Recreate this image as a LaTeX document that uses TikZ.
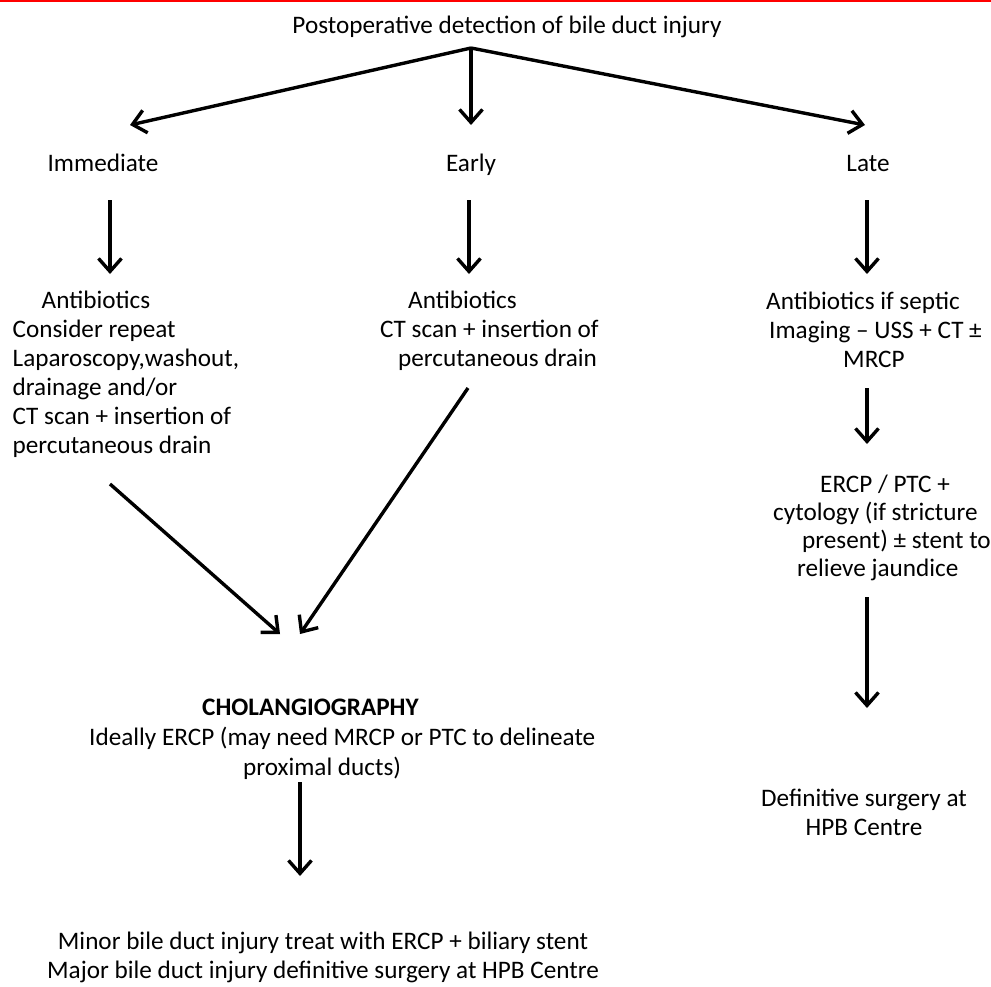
\documentclass[tikz,border=0pt]{standalone}
\usepackage{fontspec}
\setmainfont{Carlito}
\usetikzlibrary{arrows.meta}
\newcommand{\topstrut}{\rule{0pt}{20pt}}
\begin{document}
\begin{tikzpicture}[x=1pt,y=-1pt,
  txt/.style={font=\fontsize{25.2}{29}\selectfont, inner sep=0pt, anchor=center},
  blk/.style={txt, align=left, anchor=north west},
  lbl/.style={txt, anchor=base},
  arr/.style={line width=3.4pt, -{Straight Barb[length=13pt,width=23pt]}}]
\useasboundingbox (0,0) rectangle (991,986);
\fill[red] (0,0) rectangle (991,1.6);
% nodes
\node[lbl] (top) at (507,33) {Postoperative detection of bile duct injury};
\coordinate (apex) at (471,48);
\node[lbl] (imm) at (103,171) {Immediate};
\node[lbl] (early) at (471,171) {Early};
\node[lbl] (late) at (868,171) {Late};
\coordinate (immT) at (130,125);
\coordinate (earlyT) at (471,125);
\coordinate (lateT) at (865,125);
\node[blk] (immB) at (12.5,288) {\topstrut\hspace*{29pt}Antibiotics\\Consider repeat\\Laparoscopy,washout,\\drainage and/or\\CT scan + insertion of\\percutaneous drain};
\node[blk] (earlyB) at (380,288) {\topstrut\hspace*{28pt}Antibiotics\\CT scan + insertion of\\\hspace*{18pt}percutaneous drain};
\node[blk] (lateB) at (766,289) {\topstrut Antibiotics if septic\\\hspace*{3pt}Imaging -- USS + CT ±\\\hspace*{77pt}MRCP};
\node[blk, font=\fontsize{25.2}{28}\selectfont] (ercp) at (773,472) {\topstrut\hspace*{47pt}ERCP / PTC +\\cytology (if stricture\\\hspace*{29pt}present) ± stent to\\\hspace*{24pt}relieve jaundice};
\node[txt, align=center] (defin) at (864,812) {Definitive surgery at\\HPB Centre};
\node[blk, font=\fontsize{25.2}{30}\selectfont] (chol) at (89,695) {\topstrut\hspace*{113pt}\textbf{CHOLANGIOGRAPHY}\\Ideally ERCP (may need MRCP or PTC to delineate\\\hspace*{154pt}proximal ducts)};
\node[txt, align=center] (final) at (323,957) {Minor bile duct injury treat with ERCP + biliary stent\\Major bile duct injury definitive surgery at HPB Centre};
% arrows
\coordinate (immA) at (110,200);
\coordinate (earlyA) at (469,200);
\coordinate (lateA) at (867,200);
\coordinate (mrA) at (867,388);
\coordinate (ercpA) at (867,597);
\coordinate (cholA) at (300,782);
\coordinate (d1) at (110,484);
\coordinate (d2) at (468,388);
\draw[arr] (apex) -- (immT);
\draw[arr] (apex) -- (earlyT);
\draw[arr] (apex) -- (lateT);
\draw[arr] (immA) -- (110,274);
\draw[arr] (earlyA) -- (469,274);
\draw[arr] (lateA) -- (867,274);
\draw[arr] (mrA) -- (867,444);
\draw[arr] (ercpA) -- (867,708);
\draw[arr] (d1) -- (280,634);
\draw[arr] (d2) -- (300,634);
\draw[arr] (cholA) -- (300,876);
\end{tikzpicture}
\end{document}
